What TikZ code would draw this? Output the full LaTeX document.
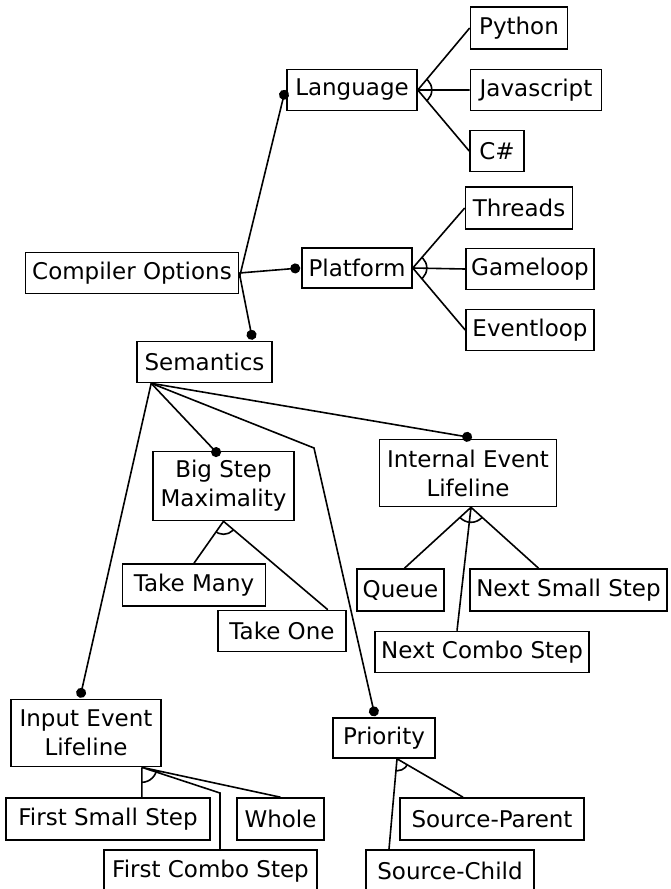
\documentclass[tikz,border=0pt]{standalone}
\usepackage{fontspec}
\setmainfont{DejaVu Sans}
\usetikzlibrary{arrows.meta,calc}
\newcommand\altarc[4]{\begin{scope}\clip (#1) -- ($(#1)!3!(#2)$) -- ($(#1)!3!(#3)$) -- cycle; \draw[link] (#1) circle[radius=#4]; \end{scope}}
\begin{document}
\begin{tikzpicture}[x=1pt,y=-1pt,
  box/.style={draw,line width=1.6pt,inner sep=0pt,font=\fontsize{23}{29}\selectfont,align=center},
  link/.style={line width=1.6pt},
  dotlink/.style={line width=1.6pt,-{Circle[length=10pt,width=10pt]}},
]
\useasboundingbox[fill=white] (0,0) rectangle (671,889);
% nodes
\node[box,minimum width=97pt,minimum height=42pt] (py) at (519,28) {Python};
\node[box,minimum width=130pt,minimum height=41pt] (lang) at (352,90) {Language};
\node[box,minimum width=131pt,minimum height=41pt] (js) at (536,90) {Javascript};
\node[box,minimum width=54pt,minimum height=41pt] (cs) at (497,151) {C\#};
\node[box,minimum width=107pt,minimum height=42pt] (thr) at (519,208) {Threads};
\node[box,minimum width=110pt,minimum height=40pt] (plat) at (357,268) {Platform};
\node[box,minimum width=128pt,minimum height=41pt] (game) at (530,269) {Gameloop};
\node[box,minimum width=128pt,minimum height=41pt] (evt) at (530,330) {Eventloop};
\node[box,minimum width=213pt,minimum height=41pt] (co) at (132,273) {Compiler Options};
\node[box,minimum width=135pt,minimum height=41pt] (sem) at (204.5,362) {Semantics};
\node[box,minimum width=141pt,minimum height=69pt] (bsm) at (223.5,486) {Big Step\\Maximality};
\node[box,minimum width=177pt,minimum height=67pt] (iel) at (468,473) {Internal Event\\Lifeline};
\node[box,minimum width=143pt,minimum height=42pt] (tm) at (194,585) {Take Many};
\node[box,minimum width=87pt,minimum height=42pt] (q) at (400.5,590) {Queue};
\node[box,minimum width=197pt,minimum height=42pt] (nss) at (568.5,590) {Next Small Step};
\node[box,minimum width=128pt,minimum height=41pt] (to) at (282,631) {Take One};
\node[box,minimum width=214pt,minimum height=41pt] (ncs) at (482,652) {Next Combo Step};
\node[box,minimum width=150pt,minimum height=67pt] (iel2) at (86,733) {Input Event\\Lifeline};
\node[box,minimum width=102pt,minimum height=40pt] (pri) at (384,738) {Priority};
\node[box,minimum width=204pt,minimum height=42pt] (fss) at (108,819) {First Small Step};
\node[box,minimum width=87pt,minimum height=42pt] (wh) at (280.5,819) {Whole};
\node[box,minimum width=184pt,minimum height=42pt] (sp) at (492,819) {Source-Parent};
\node[box,minimum width=213pt,minimum height=42pt] (fcs) at (210.5,871) {First Combo Step};
\node[box,minimum width=168pt,minimum height=42pt] (sc) at (450,871) {Source-Child};
% root connectors
\draw[dotlink] ([yshift=-5pt]co.east) -- ([xshift=-1pt]lang.west);
\draw[dotlink] (co.east) -- ([xshift=-1pt]plat.west);
\draw[dotlink] (co.east) -- ([xshift=48pt,yshift=1pt]sem.north);
% language
\coordinate (lo) at (lang.east);
\draw[link] (lo) -- (py.west) (lo) -- (js.west) (lo) -- (cs.west);
\altarc{lo}{py.west}{cs.west}{14pt}
% platform
\coordinate (plo) at (plat.east);
\draw[link] (plo) -- (thr.west) (plo) -- (game.west) (plo) -- (evt.west);
\altarc{plo}{thr.west}{evt.west}{14pt}
% semantics
\coordinate (so) at ([xshift=15pt]sem.south west);
\coordinate (pbend) at (314,448);
\draw[dotlink] (so) -- ([xshift=-4pt,yshift=-5pt]bsm.north);
\draw[dotlink] (so) -- ([xshift=4pt,yshift=1pt]iel.north);
\draw[dotlink] (so) -- (pbend) -- ([xshift=-9pt,yshift=1pt]pri.north);
\draw[dotlink] (so) -- ([xshift=-6pt,yshift=1pt]iel2.north);
% big step
\coordinate (bo) at (bsm.south);
\coordinate (tmT) at (tm.north);
\coordinate (toT) at ([xshift=-19pt]to.north east);
\draw[link] (bo) -- (tmT) (bo) -- (toT);
\altarc{bo}{tmT}{toT}{13pt}
% internal event
\coordinate (io) at ([xshift=3pt]iel.south);
\coordinate (qT) at ([xshift=4pt]q.north);
\coordinate (nssT) at ([xshift=-30pt]nss.north);
\coordinate (ncsT) at ([xshift=-25pt]ncs.north);
\draw[link] (io) -- (qT) (io) -- (nssT) (io) -- (ncsT);
\altarc{io}{qT}{nssT}{15pt}
% input event
\coordinate (ino) at ([xshift=-20pt]iel2.south east);
\coordinate (fssT) at (ino |- fss.north);
\coordinate (fcsB) at (220,793);
\coordinate (fcsT) at (fcsB |- fcs.north);
\coordinate (whT) at (wh.north);
\draw[link] (ino) -- (fssT) (ino) -- (fcsB) -- (fcsT) (ino) -- (whT);
\altarc{ino}{fssT}{whT}{15pt}
% priority
\coordinate (po) at ([xshift=13pt]pri.south);
\coordinate (scT) at ([xshift=-61pt]sc.north);
\coordinate (spT) at ([xshift=-29pt]sp.north);
\draw[link] (po) -- (scT) (po) -- (spT);
\altarc{po}{scT}{spT}{12pt}
\end{tikzpicture}
\end{document}
